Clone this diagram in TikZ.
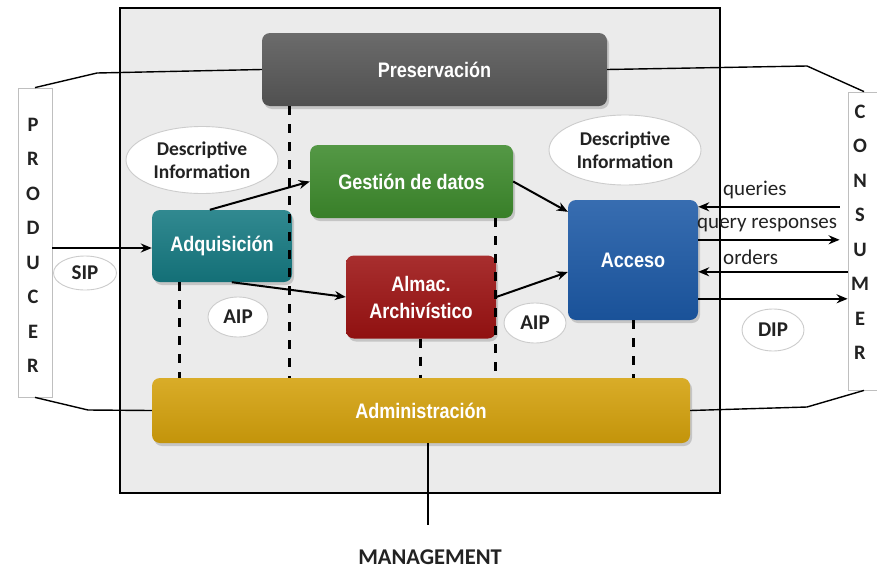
\documentclass[tikz,border=0pt]{standalone}
\usepackage{fontspec}
\setmainfont{Carlito}
\newfontfamily\boxfont[FakeStretch=0.86]{Liberation Sans Bold}
\usetikzlibrary{arrows.meta,shadows,shapes.geometric,calc}

\definecolor{framebg}{HTML}{EBEBEB}
\definecolor{cpres}{HTML}{575757}
\definecolor{cgest}{HTML}{3D8A2C}
\definecolor{cadq}{HTML}{157981}
\definecolor{calm}{HTML}{9C1212}
\definecolor{cacc}{HTML}{1C59A6}
\definecolor{cadm}{HTML}{D4A10B}
\definecolor{ink}{HTML}{222222}

% soft bubble fill: white centre, grey rim
\pgfdeclareradialshading{bubbleshade}{\pgfpoint{0bp}{0bp}}{%
  color(0bp)=(white); color(33bp)=(white); color(45bp)=(gray!18);
  color(50bp)=(gray!38)}

\tikzset{
  entity/.style={rectangle, rounded corners=8pt, inner sep=0pt, align=center,
    text=white, font=\boxfont\fontsize{21}{27}\selectfont,
    top color=#1!88!white, middle color=#1, bottom color=#1!92!black,
    drop shadow={opacity=0.35, shadow xshift=2pt, shadow yshift=-3pt}},
  bubble/.style={ellipse, inner sep=0pt, align=center, draw=gray!40, line width=0.9pt,
    shading=bubbleshade, text=ink,
    font=\bfseries\fontsize{19.5}{23}\selectfont},
  pkg/.style={bubble, font=\bfseries\fontsize{21}{24}\selectfont},
  party/.style={rectangle, inner sep=0pt, draw=gray!50, fill=white, line width=0.8pt},
  partytext/.style={inner sep=0pt, align=center, text=ink,
    font=\bfseries\fontsize{20.5}{34.5}\selectfont},
  flow/.style={line width=2pt, -{Stealth[length=11pt,width=9pt]}},
  link/.style={line width=1.4pt},
  dashline/.style={line width=3pt, dash pattern=on 9pt off 9pt},
  msg/.style={inner sep=0pt, anchor=west, text=ink, font=\fontsize{21}{24}\selectfont}
}

\begin{document}
\begin{tikzpicture}[x=1pt, y=-1pt]
\useasboundingbox (0,0) rectangle (877,573);
\fill[white] (0,0) rectangle (877,573);

% archive frame
\draw[fill=framebg, line width=1.5pt] (120,8) rectangle (720,493);

% external parties
\node[party, minimum width=34pt, minimum height=309pt] (prod) at (35,242.5) {};
\node[partytext] (prodtxt) at (33,245.5) {P\\R\\O\\D\\U\\C\\E\\R};
\node[party, minimum width=34pt, minimum height=298pt] (cons) at (865,241) {};
\node[partytext] (constxt) at (860,232.5) {C\\O\\N\\S\\U\\M\\E\\R};

% functional entities
\node[entity=cpres, minimum width=345pt, minimum height=73pt] (pres) at (434.5,69.5) {Preservación};
\node[entity=cgest, minimum width=203pt, minimum height=73pt] (gest) at (411.5,181.5) {Gestión de datos};
\node[entity=cadq, minimum width=140pt, minimum height=72pt] (adq) at (222,246) {Adquisición};
\node[entity=calm, minimum width=150pt, minimum height=83pt] (alm) at (421,297) {Almac.\\Archivístico};
\node[entity=cacc, minimum width=130pt, minimum height=120pt] (acc) at (633,260) {Acceso};
\node[entity=cadm, minimum width=538pt, minimum height=65pt] (adm) at (421,410.5) {Administración};

% information packages
\node[bubble, minimum width=152pt, minimum height=67pt] (desc1) at (202,160) {Descriptive\\Information};
\node[bubble, minimum width=152pt, minimum height=70pt] (desc2) at (625,150) {Descriptive\\Information};
\node[pkg, minimum width=63pt, minimum height=34pt] (sip) at (85,273) {SIP};
\node[pkg, minimum width=60pt, minimum height=40pt] (aip1) at (238,317) {AIP};
\node[pkg, minimum width=62pt, minimum height=40pt] (aip2) at (535,323) {AIP};
\node[pkg, minimum width=62pt, minimum height=42pt] (dip) at (773,330) {DIP};

% management label
\node[inner sep=0pt, text=ink, font=\bfseries\fontsize{22.5}{26}\selectfont] (mgmt) at (430,557) {MANAGEMENT};
\coordinate (mgtop) at (428,525);

% dashed links to Administración
\draw[dashline] ([xshift=28pt]adq.south west) -- ([xshift=28pt]adq.south west |- adm.north);
\draw[dashline] ([xshift=28pt]pres.south west) -- ([xshift=28pt]pres.south west |- adm.north);
\draw[dashline] (alm.south -| 420,0) -- (adm.north -| 420,0);
\draw[dashline] ([xshift=-18pt]gest.south east) -- ([xshift=-18pt]gest.south east |- adm.north);
\draw[dashline] (acc.south) -- (acc.south |- adm.north);

% links between the parties and the frame
\draw[link] (prod.north) -- (97,73) -- (pres.west);
\draw[link] (prod.south) -- (88,410) -- (adm.west);
\draw[link] (pres.east) -- (807,66) -- ([xshift=-1pt]cons.north);
\draw[link] (adm.east) -- (807,407) -- ([xshift=-1pt]cons.south);
\draw[link] ([xshift=7pt]adm.south) -- (mgtop);

% internal flows
\draw[flow] ([yshift=-2pt]adq.west -| prod.east) -- ([yshift=-2pt]adq.west);
\draw[flow] ([xshift=58pt]adq.north west) -- (gest.west);
\draw[flow] ([xshift=80pt]adq.south west) -- (alm.west);
\draw[flow] (gest.east) -- ([yshift=-12pt]acc.north west);
\draw[flow] (alm.east) -- ([yshift=-12pt]acc.west);

% consumer interaction
\coordinate (cx) at ([xshift=-8pt]cons.west);
\coordinate (r1) at ([yshift=-7pt]acc.north east);
\coordinate (r2) at ([yshift=-40pt]acc.north east);
\coordinate (r3) at ([yshift=-72pt]acc.north east);
\coordinate (r4) at ([yshift=-99pt]acc.north east);
\draw[flow] (r1 -| cx) -- (r1);
\draw[flow] (r2) -- (r2 -| cx);
\draw[flow] (r3 -| cons.west) -- (r3);
\draw[flow] (r4) -- (r4 -| cons.west);
\node[msg] (lq) at (723,190) {queries};
\node[msg] (lqr) at (697,225) {query responses};
\node[msg] (lo) at (723,257) {orders};
\end{tikzpicture}
\end{document}
